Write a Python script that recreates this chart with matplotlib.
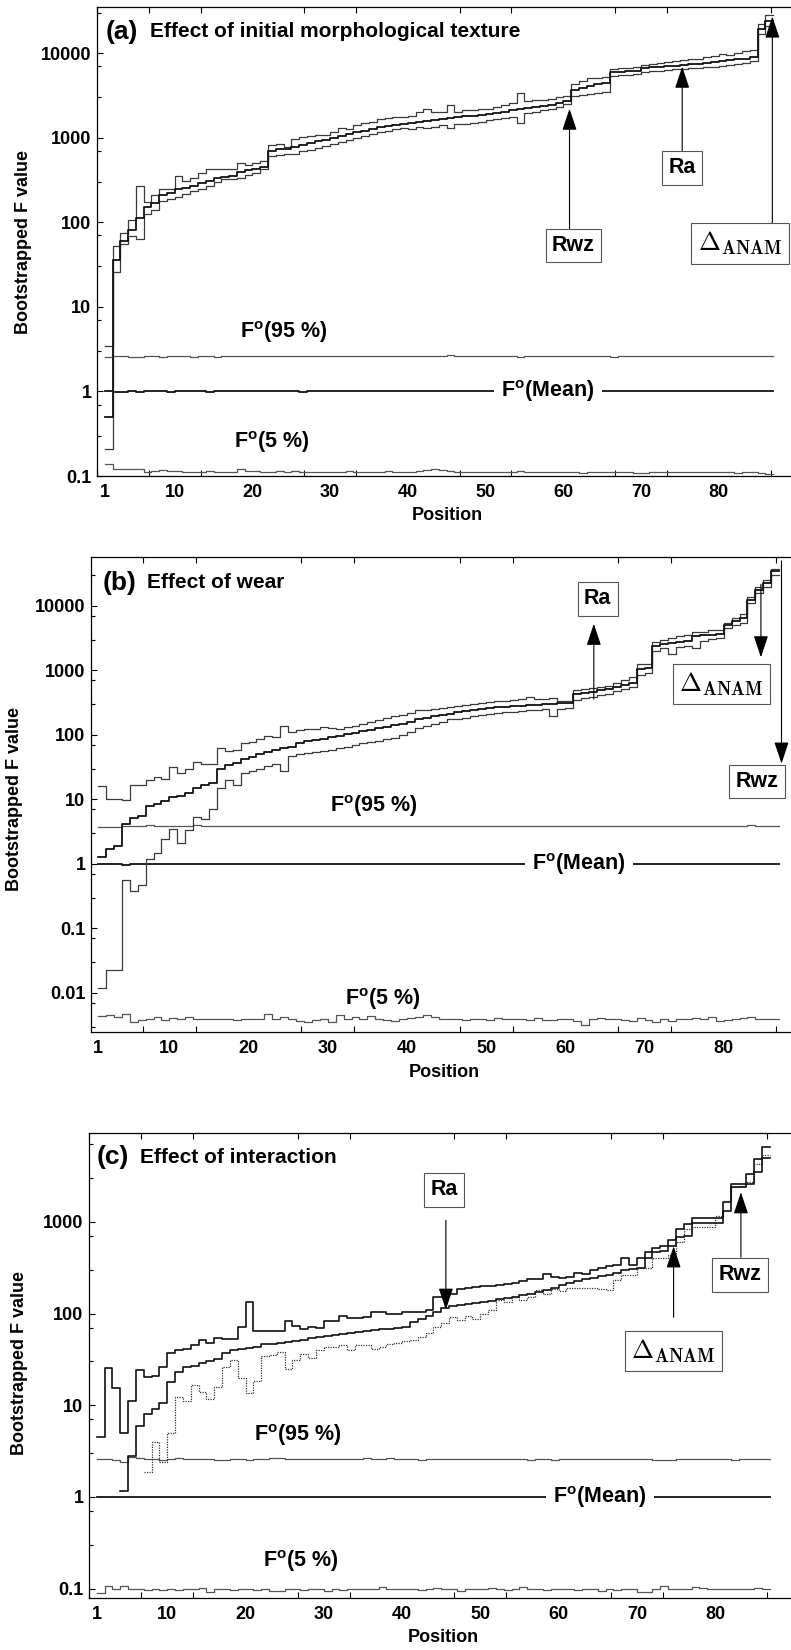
import numpy as np
import matplotlib
matplotlib.use("Agg")
import matplotlib.pyplot as plt
from matplotlib.ticker import FixedLocator, FixedFormatter, NullFormatter

plt.rcParams['font.family'] = ['Liberation Sans', 'DejaVu Sans']
plt.rcParams['font.weight'] = 'bold'
plt.rcParams['mathtext.fontset'] = 'custom'
plt.rcParams['mathtext.rm'] = 'Liberation Sans:bold'
plt.rcParams['mathtext.bf'] = 'Liberation Sans:bold'
plt.rcParams['mathtext.it'] = 'Liberation Sans:bold'

# ---------------- data ----------------
positions = list(range(1, 87))          # positions 1..86 (steps end at 87)
x_tick_labels = [1, 10, 20, 30, 40, 50, 60, 70, 80]
nan = float('nan')

# (a) Effect of initial morphological texture
a_upper = [3.4, 52, 75, 105, 270, 175, 210, 250, 250, 350,
           310, 330, 380, 420, 420, 420, 420, 500, 470, 500,
           530, 820, 850, 780, 960, 1020, 1050, 1060, 1080, 1150,
           1300, 1250, 1400, 1500, 1550, 1650, 1700, 1750, 1750, 1800,
           2000, 2200, 2000, 2000, 2400, 2000, 2100, 2100, 2200, 2200,
           2300, 2400, 2600, 3400, 2700, 2800, 2800, 2900, 3000, 3100,
           4300, 4700, 5000, 5000, 5200, 6500, 6600, 6700, 6800, 7300,
           7400, 7600, 7800, 8000, 8200, 8400, 8600, 9000, 9200, 9800,
           9500, 10000, 10500, 11000, 22000, 28000]
a_mean = [0.5, 36, 60, 80, 112, 150, 170, 210, 220, 245,
          255, 265, 290, 310, 335, 345, 355, 395, 410, 430,
          450, 700, 730, 740, 780, 820, 860, 900, 940, 980,
          1050, 1100, 1150, 1200, 1260, 1320, 1380, 1420, 1460, 1500,
          1540, 1580, 1620, 1660, 1700, 1740, 1780, 1820, 1860, 1900,
          1950, 2000, 2100, 2200, 2250, 2300, 2350, 2450, 2550, 2700,
          3700, 3900, 4100, 4300, 4400, 5900, 6000, 6100, 6200, 6700,
          6800, 6900, 7000, 7100, 7300, 7400, 7500, 7700, 7800, 8000,
          8200, 8400, 8600, 9000, 19000, 24000]
a_lower = [0.21, 26, 55, 68, 64, 125, 140, 180, 190, 200,
           215, 235, 250, 270, 300, 320, 320, 330, 360, 380,
           420, 600, 620, 640, 640, 700, 720, 760, 800, 850,
           880, 950, 980, 1050, 1100, 1150, 1200, 1250, 1300, 1250,
           1350, 1300, 1350, 1400, 1300, 1450, 1450, 1500, 1550, 1600,
           1650, 1700, 1750, 1500, 1950, 2000, 2100, 2200, 2300, 2500,
           3100, 3200, 3300, 3400, 3500, 5400, 5500, 5500, 5600, 6000,
           6100, 6200, 6300, 6400, 6500, 6600, 6700, 6800, 6900, 7100,
           7300, 7500, 7700, 8000, 17000, 21000]
a_f95 = [2.55, 2.6, 2.6, 2.55, 2.55, 2.6, 2.6, 2.55, 2.6, 2.6,
         2.6, 2.55, 2.6, 2.6, 2.55, 2.6, 2.6, 2.6, 2.65, 2.6,
         2.6, 2.6, 2.65, 2.6, 2.6, 2.6, 2.65, 2.6, 2.6, 2.6,
         2.6, 2.6, 2.6, 2.65, 2.6, 2.6, 2.6, 2.6, 2.6, 2.65,
         2.6, 2.6, 2.6, 2.6, 2.7, 2.6, 2.6, 2.6, 2.6, 2.6,
         2.6, 2.6, 2.6, 2.55, 2.6, 2.6, 2.6, 2.6, 2.6, 2.6,
         2.6, 2.6, 2.6, 2.6, 2.6, 2.55, 2.6, 2.6, 2.6, 2.6,
         2.6, 2.6, 2.6, 2.6, 2.6, 2.6, 2.6, 2.6, 2.6, 2.6,
         2.6, 2.6, 2.6, 2.6, 2.6, 2.6]
a_fmean = [1.0, 0.99, 0.99, 1.0, 0.99, 1.0, 1.0, 1.0, 0.99, 1.0,
           1.0, 1.0, 1.0, 0.99, 1.0, 1.0, 1.0, 1.0, 1.0, 1.0,
           1.0, 1.0, 1.0, 1.0, 1.0, 0.99, 1.0, 1.0, 1.0, 1.0,
           1.0, 1.0, 1.0, 1.0, 1.0, 1.0, 1.0, 1.0, 1.0, 1.0,
           1.0, 1.0, 1.0, 1.0, 1.0, 1.0, 1.0, 1.0, 1.0, 1.0,
           1.0, 1.0, 1.0, 1.0, 1.0, 1.0, 1.0, 1.0, 1.0, 1.0,
           1.0, 1.0, 1.0, 1.0, 1.0, 1.0, 1.0, 1.0, 1.0, 1.0,
           1.0, 1.0, 1.0, 1.0, 1.0, 1.0, 1.0, 1.0, 1.0, 1.0,
           1.0, 1.0, 1.0, 1.0, 1.0, 1.0]
a_f5 = [0.14, 0.12, 0.12, 0.122, 0.12, 0.112, 0.115, 0.118, 0.115, 0.115,
        0.113, 0.112, 0.11, 0.116, 0.11, 0.112, 0.112, 0.12, 0.115, 0.114,
        0.11, 0.112, 0.114, 0.113, 0.116, 0.112, 0.112, 0.11, 0.11, 0.11,
        0.112, 0.115, 0.11, 0.112, 0.11, 0.112, 0.114, 0.11, 0.112, 0.112,
        0.115, 0.118, 0.12, 0.117, 0.115, 0.112, 0.112, 0.11, 0.11, 0.113,
        0.11, 0.11, 0.112, 0.115, 0.112, 0.11, 0.112, 0.112, 0.11, 0.11,
        0.11, 0.109, 0.112, 0.11, 0.11, 0.112, 0.11, 0.11, 0.109, 0.108,
        0.11, 0.11, 0.112, 0.11, 0.11, 0.112, 0.11, 0.11, 0.112, 0.11,
        0.11, 0.109, 0.11, 0.11, 0.108, 0.106]

# (b) Effect of wear
b_upper = [16, 10.3, 10, 9.8, 16.5, 16.5, 20, 22, 20.5, 32,
           26, 30, 38, 36, 36, 62, 56, 58, 75, 78,
           88, 95, 92, 140, 110, 118, 122, 125, 132, 128,
           125, 132, 140, 148, 160, 170, 185, 195, 205, 220,
           240, 245, 250, 260, 275, 285, 295, 305, 315, 330,
           335, 340, 350, 360, 390, 360, 360, 370, 340, 340,
           500, 520, 540, 560, 580, 650, 700, 780, 1250, 1250,
           2800, 3000, 3200, 3400, 3500, 4000, 4000, 4200, 4200, 5500,
           6500, 7500, 14000, 20000, 25000, 38000]
b_mean = [1.3, 1.7, 1.9, 4.2, 5.2, 5.5, 7.8, 8.5, 9.5, 11,
          11.5, 12.5, 15, 17, 18, 30, 34, 37, 42, 46,
          50, 54, 58, 62, 66, 75, 80, 84, 88, 92,
          97, 102, 108, 114, 120, 128, 135, 142, 150, 160,
          175, 185, 195, 205, 215, 225, 235, 245, 255, 265,
          270, 275, 280, 285, 290, 295, 300, 305, 310, 315,
          430, 450, 470, 490, 510, 560, 600, 650, 1050, 1100,
          2400, 2600, 2700, 2800, 2900, 3400, 3500, 3600, 3700, 5000,
          5800, 6500, 12500, 18000, 23000, 35000]
b_lower = [0.012, 0.023, 0.023, 0.56, 0.38, 0.48, 1.2, 1.5, 2.4, 3.5,
           2.1, 3.4, 5.4, 5.0, 7.2, 15, 20, 17, 26, 28,
           30, 33, 36, 28, 48, 50, 52, 54, 56, 58,
           62, 66, 70, 74, 78, 82, 86, 90, 100, 110,
           130, 140, 150, 160, 175, 180, 185, 195, 205, 212,
           220, 225, 230, 235, 240, 245, 250, 200, 255, 260,
           350, 370, 390, 410, 430, 480, 520, 560, 850, 900,
           2000, 2200, 1800, 2300, 2400, 2200, 2900, 3100, 3200, 4500,
           5000, 5500, 11000, 16000, 20000, 30000]
b_f95 = [3.7, 3.8, 3.8, 3.85, 3.9, 3.9, 3.95, 3.9, 3.9, 3.9,
         3.9, 3.9, 3.95, 3.9, 3.9, 3.9, 3.9, 3.9, 3.9, 3.9,
         3.9, 3.9, 3.9, 3.9, 3.85, 3.9, 3.9, 3.9, 3.9, 3.9,
         3.9, 3.9, 3.9, 3.9, 3.9, 3.9, 3.9, 3.9, 3.9, 3.9,
         3.9, 3.85, 3.9, 3.9, 3.9, 3.9, 3.9, 3.9, 3.9, 3.9,
         3.9, 3.9, 3.9, 3.9, 3.9, 3.9, 3.9, 3.9, 3.9, 3.85,
         3.9, 3.9, 3.9, 3.9, 3.9, 3.9, 3.9, 3.9, 3.9, 3.9,
         3.9, 3.9, 3.9, 3.9, 3.9, 3.9, 3.9, 3.9, 3.9, 3.9,
         3.9, 3.9, 3.95, 3.9, 3.9, 3.9]
b_fmean = [1.0, 1.0, 0.99, 0.98, 1.0, 1.0, 1.0, 1.0, 1.0, 1.0,
           1.0, 1.0, 1.0, 1.0, 1.0, 1.0, 1.0, 1.0, 1.0, 1.0,
           1.01, 1.0, 1.0, 1.0, 1.0, 1.0, 1.0, 1.0, 1.0, 1.0,
           1.0, 1.0, 1.0, 1.0, 1.0, 1.0, 1.0, 1.0, 1.0, 1.0,
           1.0, 1.0, 1.0, 1.0, 1.0, 1.0, 1.0, 1.0, 1.0, 1.0,
           1.0, 1.0, 1.0, 1.0, 1.0, 1.0, 1.0, 1.0, 1.0, 1.0,
           1.0, 1.0, 1.0, 1.0, 1.0, 1.0, 1.0, 1.0, 1.0, 1.0,
           1.0, 1.0, 1.0, 1.0, 1.0, 1.0, 1.0, 1.0, 1.0, 1.0,
           1.0, 1.0, 1.0, 1.0, 1.0, 1.0]
b_f5 = [0.0044, 0.0046, 0.0043, 0.0047, 0.0036, 0.0038, 0.004, 0.0042, 0.0038, 0.0041,
        0.004, 0.0042, 0.004, 0.004, 0.004, 0.004, 0.0039, 0.0038, 0.004, 0.004,
        0.0039, 0.0047, 0.0039, 0.0042, 0.004, 0.0037, 0.0036, 0.0038, 0.004, 0.0035,
        0.0045, 0.004, 0.0043, 0.004, 0.0044, 0.004, 0.0038, 0.0037, 0.004, 0.0041,
        0.0042, 0.0045, 0.0043, 0.0039, 0.004, 0.0039, 0.0038, 0.004, 0.0039, 0.0038,
        0.0041, 0.004, 0.004, 0.0039, 0.0038, 0.0041, 0.0038, 0.0038, 0.004, 0.0039,
        0.0037, 0.0032, 0.004, 0.0041, 0.0039, 0.004, 0.0038, 0.0037, 0.0041, 0.0038,
        0.0036, 0.004, 0.0037, 0.0039, 0.0039, 0.0041, 0.0039, 0.0043, 0.0037, 0.0038,
        0.004, 0.0041, 0.0042, 0.004, 0.0039, 0.0039]

# (c) Effect of interaction
c_upper = [4.5, 25.7, 15.3, 5.0, 11.2, 24.3, 20.2, 21, 25.9, 37.5,
           40, 41, 45, 51.6, 48, 53.7, 53, 53, 71, 133,
           64, 64, 64, 64, 82, 73, 68, 71, 69, 82,
           82, 95, 90, 90, 91, 103, 103, 98, 98, 103,
           105, 105, 110, 150, 150, 165, 185, 190, 195, 200,
           200, 205, 210, 215, 225, 235, 235, 270, 250, 245,
           250, 280, 270, 300, 310, 330, 340, 400, 340, 400,
           470, 520, 540, 630, 830, 950, 1100, 1100, 1100, 1100,
           1650, 2600, 2600, 3300, 4900, 6500]
c_mean = [nan, nan, nan, 1.15, 2.8, 6.0, 8.0, 9.1, 10.7, 18.1,
          22.9, 25.9, 27, 28.6, 30.3, 31.6, 36.8, 40, 41, 42.3,
          43.4, 46, 47, 48, 49, 50, 52, 54, 56, 57,
          58, 60, 62, 63, 64, 66, 67, 68, 70, 71,
          80, 88, 95, 105, 115, 120, 125, 128, 130, 133,
          138, 143, 148, 153, 160, 165, 172, 180, 190, 205,
          215, 225, 235, 245, 255, 265, 280, 300, 305, 310,
          400, 470, 480, 550, 690, 700, 960, 960, 970, 980,
          1300, 2400, 2400, 2600, 3500, 5000]
c_lower = [nan, nan, nan, nan, nan, nan, 1.89, 3.95, 2.39, 4.95,
           12.4, 11.1, 16.6, 14.1, 11.7, 15.7, 26, 31, 19.6, 13.5,
           18.5, 34.5, 35, 38.4, 24.7, 31, 36, 32.5, 40, 43,
           43, 45, 40, 45, 45, 41.5, 43, 46, 48, 50,
           52, 55, 62, 72, 78, 92, 85, 95, 88, 100,
           110, 140, 135, 150, 140, 150, 180, 165, 185, 175,
           190, 190, 190, 190, 185, 180, 230, 260, 260, 310,
           310, 400, 400, 440, 600, 840, 870, 870, 870, 1150,
           1700, 2400, 2450, 2700, 4300, 5300]
c_f95 = [2.6, 2.6, 2.55, 2.4, 2.7, 2.65, 2.6, 2.6, 2.55, 2.6,
         2.65, 2.6, 2.6, 2.6, 2.6, 2.55, 2.55, 2.6, 2.6, 2.55,
         2.6, 2.6, 2.65, 2.65, 2.6, 2.6, 2.6, 2.6, 2.6, 2.6,
         2.6, 2.6, 2.6, 2.6, 2.65, 2.6, 2.6, 2.65, 2.6, 2.6,
         2.6, 2.55, 2.6, 2.6, 2.6, 2.6, 2.6, 2.6, 2.6, 2.6,
         2.6, 2.6, 2.6, 2.6, 2.6, 2.55, 2.6, 2.6, 2.55, 2.6,
         2.6, 2.6, 2.6, 2.6, 2.6, 2.6, 2.6, 2.6, 2.6, 2.6,
         2.6, 2.55, 2.55, 2.55, 2.6, 2.6, 2.6, 2.6, 2.6, 2.6,
         2.6, 2.55, 2.6, 2.6, 2.6, 2.6]
c_fmean = [1.0, 1.0, 1.0, 1.0, 1.0, 1.0, 1.0, 1.0, 1.0, 1.0,
           1.0, 1.0, 1.0, 1.0, 0.99, 1.0, 1.0, 1.0, 1.0, 1.0,
           1.0, 1.0, 1.0, 1.0, 1.0, 1.0, 1.0, 1.0, 1.0, 1.0,
           1.0, 1.0, 1.0, 1.0, 1.0, 1.0, 1.0, 1.0, 1.0, 1.0,
           1.0, 1.0, 1.0, 1.0, 1.0, 1.0, 1.0, 1.0, 1.0, 1.0,
           1.0, 1.0, 1.0, 1.0, 1.0, 1.0, 1.0, 1.0, 1.0, 1.0,
           1.0, 1.0, 1.0, 1.0, 1.0, 1.0, 1.0, 1.0, 1.0, 1.0,
           1.0, 1.0, 1.0, 1.0, 1.0, 1.0, 1.0, 1.0, 1.0, 1.0,
           1.0, 1.0, 1.0, 1.0, 1.0, 1.0]
c_f5 = [0.09, 0.107, 0.1, 0.108, 0.1, 0.098, 0.096, 0.1, 0.096, 0.098,
        0.096, 0.1, 0.098, 0.102, 0.092, 0.098, 0.098, 0.096, 0.1, 0.1,
        0.096, 0.1, 0.094, 0.094, 0.098, 0.098, 0.096, 0.098, 0.098, 0.094,
        0.1, 0.096, 0.098, 0.098, 0.1, 0.1, 0.104, 0.098, 0.098, 0.1,
        0.098, 0.096, 0.1, 0.102, 0.098, 0.098, 0.094, 0.098, 0.1, 0.098,
        0.102, 0.1, 0.096, 0.1, 0.104, 0.1, 0.098, 0.096, 0.1, 0.098,
        0.098, 0.096, 0.1, 0.098, 0.094, 0.1, 0.096, 0.098, 0.1, 0.092,
        0.092, 0.1, 0.106, 0.1, 0.1, 0.098, 0.104, 0.102, 0.1, 0.098,
        0.1, 0.1, 0.1, 0.1, 0.102, 0.098]

for arr in (a_upper, a_mean, a_lower, a_f95, a_fmean, a_f5,
            b_upper, b_mean, b_lower, b_f95, b_fmean, b_f5,
            c_upper, c_mean, c_lower, c_f95, c_fmean, c_f5):
    assert len(arr) == len(positions), len(arr)

# ---------------- figure ----------------
W, H = 791, 1650
fig = plt.figure(figsize=(W / 100, H / 100), dpi=100)


def rect(left, top, bottom):
    return [left / W, 1 - bottom / H, 1 - left / W, (bottom - top) / H]


GREY = '#3a3a3a'


def stairs(ax, vals, **kw):
    x = positions + [positions[-1] + 1]
    y = list(vals) + [vals[-1]]
    ax.step(x, y, where='post', **kw)


def setup(ax, xlim, ylim, decades, minor_mult, xlabel_y):
    ax.set_yscale('log')
    ax.set_xlim(*xlim)
    ax.set_ylim(*ylim)
    ax.xaxis.set_major_locator(FixedLocator(x_tick_labels))
    ax.xaxis.set_major_formatter(FixedFormatter([str(v) for v in x_tick_labels]))
    ax.xaxis.set_minor_locator(FixedLocator(list(np.arange(0, 90, 20 / 3))))
    ax.yaxis.set_major_locator(FixedLocator(decades))
    ax.yaxis.set_major_formatter(FixedFormatter([('%g' % d) for d in decades]))
    minors = [d * m for d in [1e-3, 1e-2, 1e-1, 1, 10, 100, 1000, 1e4] for m in minor_mult]
    ax.yaxis.set_minor_locator(FixedLocator(minors))
    ax.yaxis.set_minor_formatter(NullFormatter())
    ax.tick_params(axis='x', which='major', length=0, pad=6, labelsize=13)
    ax.tick_params(axis='x', which='minor', direction='in', length=4, width=0.8,
                   top=True, bottom=True)
    ax.tick_params(axis='y', which='major', direction='in', length=4, width=0.8,
                   pad=4, labelsize=13, right=False)
    ax.tick_params(axis='y', which='minor', direction='in', length=3, width=0.8,
                   right=False)
    for s in ('left', 'bottom', 'top'):
        ax.spines[s].set_linewidth(0.9)
    ax.spines['right'].set_visible(False)
    for lab in ax.get_xticklabels() + ax.get_yticklabels():
        lab.set_fontweight('bold')
    ax.set_xlabel('Position', fontsize=13, fontweight='bold')
    ax.xaxis.set_label_coords(0.505, xlabel_y)


def fo_lines(ax, f95, fm, f5):
    stairs(ax, f95, color='#555555', lw=0.9, zorder=2)
    stairs(ax, fm, color='#111111', lw=1.3, zorder=2)
    stairs(ax, f5, color='#555555', lw=0.9, zorder=2)


LBL = dict(fontsize=15.5, ha='center', va='center', fontweight='bold')
BOX = dict(boxstyle='square,pad=0.3', fc='white', ec='#555555', lw=0.8)
ARR = dict(arrowstyle='-|>,head_length=0.9,head_width=0.3', color='black',
           lw=0.8, shrinkA=0, shrinkB=0, mutation_scale=15)


def arrow(ax, x, y_from, y_to):
    ax.annotate('', xy=(x, y_to), xytext=(x, y_from), arrowprops=ARR, zorder=5)


def box(ax, x, y, s, **kw):
    ax.text(x, y, s, bbox=BOX, zorder=6, **{**LBL, **kw})


def anam(ax, x, y):
    ax.text(x, y, r'$\Delta_{\mathbf{ANAM}}$', math_fontfamily='cm', fontsize=19,
            ha='center', va='center', bbox=dict(boxstyle='square,pad=0.25', fc='white',
                                                ec='#555555', lw=0.8), zorder=6)


def title(ax, tag, text, y):
    ax.text(tag[0], y, tag[1], transform=ax.transAxes, fontsize=19, fontweight='bold',
            ha='left', va='center')
    ax.text(text[0], y, text[1], transform=ax.transAxes, fontsize=15, fontweight='bold',
            ha='left', va='center')


F95 = r'F$^{\rm o}$(95 %)'
FM = r'F$^{\rm o}$(Mean)'
F5 = r'F$^{\rm o}$(5 %)'

# ---- panel (a)
ax = fig.add_axes(rect(97, 7, 476))
stairs(ax, a_upper, color=GREY, lw=0.9, zorder=3)
stairs(ax, a_lower, color=GREY, lw=0.9, zorder=3)
stairs(ax, a_mean, color='#111111', lw=1.3, zorder=4)
fo_lines(ax, a_f95, a_fmean, a_f5)
setup(ax, (0, 89.3), (0.1, 35000), [0.1, 1, 10, 100, 1000, 10000], [3, 7], -0.066)
ax.set_ylabel('Bootstrapped F value', fontsize=13, fontweight='bold')
ax.yaxis.set_label_coords(-0.094, 0.5)
title(ax, (0.012, '(a)'), (0.077, 'Effect of initial morphological texture'), 0.947)
ax.text(24, 5.0, F95, fontsize=15.5, ha='center', va='center')
ax.text(58, 1.0, FM, fontsize=15.5, ha='center', va='center',
        bbox=dict(boxstyle='square,pad=0.35', fc='white', ec='none'), zorder=5)
ax.text(22.5, 0.25, F5, fontsize=15.5, ha='center', va='center')
arrow(ax, 60.8, 84, 2200)
box(ax, 61.3, 53, 'Rwz')
arrow(ax, 75.3, 700, 6900)
box(ax, 75.3, 440, 'Ra')
arrow(ax, 86.9, 98, 27000)
anam(ax, 82.7, 56)

# ---- panel (b)
ax = fig.add_axes(rect(91, 557, 1032))
stairs(ax, b_upper, color=GREY, lw=0.9, zorder=3)
stairs(ax, b_lower, color=GREY, lw=0.9, zorder=3)
stairs(ax, b_mean, color='#111111', lw=1.3, zorder=4)
fo_lines(ax, b_f95, b_fmean, b_f5)
setup(ax, (0.1, 88.5), (0.00248, 57500), [0.01, 0.1, 1, 10, 100, 1000, 10000], [3, 7],
      -0.068)
ax.set_ylabel('Bootstrapped F value', fontsize=13, fontweight='bold')
ax.yaxis.set_label_coords(-0.097, 0.49)
title(ax, (0.016, '(b)'), (0.08, 'Effect of wear'), 0.946)
ax.text(35.8, 7.9, F95, fontsize=15.5, ha='center', va='center')
ax.text(61.7, 1.0, FM, fontsize=15.5, ha='center', va='center',
        bbox=dict(boxstyle='square,pad=0.35', fc='white', ec='none'), zorder=5)
ax.text(36.9, 0.0081, F5, fontsize=15.5, ha='center', va='center')
arrow(ax, 63.6, 360, 5300)
box(ax, 64.1, 13000, 'Ra')
arrow(ax, 84.7, 21700, 1600)
anam(ax, 79.7, 620)
arrow(ax, 87.3, 50000, 36)
box(ax, 84.2, 19, 'Rwz')

# ---- panel (c)
ax = fig.add_axes(rect(89, 1133, 1598))
stairs(ax, c_upper, color='#111111', lw=1.2, zorder=3)
stairs(ax, c_lower, color='#333333', lw=0.9, ls=(0, (1, 1)), zorder=3)
stairs(ax, c_mean, color='#111111', lw=1.2, zorder=4)
fo_lines(ax, c_f95, c_fmean, c_f5)
setup(ax, (0, 89.7), (0.079, 9300), [0.1, 1, 10, 100, 1000], [3, 7], -0.066)
ax.set_ylabel('Bootstrapped F value', fontsize=13, fontweight='bold')
ax.yaxis.set_label_coords(-0.087, 0.505)
title(ax, (0.011, '(c)'), (0.073, 'Effect of interaction'), 0.948)
ax.text(26.7, 4.75, F95, fontsize=15.5, ha='center', va='center')
ax.text(65.3, 1.0, FM, fontsize=15.5, ha='center', va='center',
        bbox=dict(boxstyle='square,pad=0.35', fc='white', ec='none'), zorder=5)
ax.text(27.0, 0.2, F5, fontsize=15.5, ha='center', va='center')
arrow(ax, 45.6, 1040, 110)
box(ax, 45.4, 2230, 'Ra')
arrow(ax, 74.7, 91, 540)
anam(ax, 74.7, 39)
arrow(ax, 83.3, 410, 2100)
box(ax, 83.2, 265, 'Rwz')

fig.savefig('out.png', dpi=100)
